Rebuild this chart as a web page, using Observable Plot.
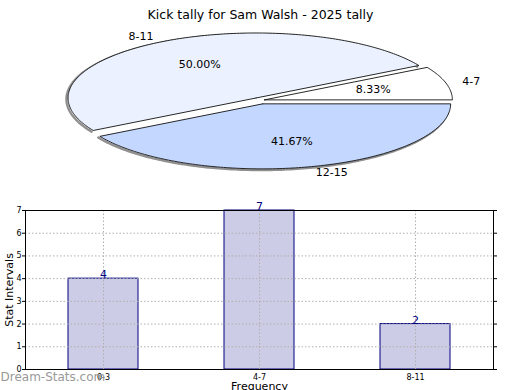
<!DOCTYPE html>
<html><head><meta charset="utf-8">
<script src="https://cdn.jsdelivr.net/npm/d3@7"></script>
<script src="https://cdn.jsdelivr.net/npm/@observablehq/plot@0.6"></script>
<style>
body{margin:0;background:#fff;}
#c{position:relative;width:520px;height:390px;overflow:hidden;font-family:"DejaVu Sans",sans-serif;}
#c svg{position:absolute;left:0;}
</style>
</head><body><div id="c"></div>
<script>
const title = "Kick tally for Sam Walsh - 2025 tally";
const pieLabels = ["4-7", "8-11", "12-15"];
const pieValues = [1, 6, 5];
const pieColors = ["#ffffff", "#ebf1ff", "#c4d8ff"];
const barCategories = ["0-3", "4-7", "8-11"];
const barValues = [4, 7, 2];
const yTicks = [0, 1, 2, 3, 4, 5, 6, 7];
const xLabel = "Frequency";
const yLabel = "Stat Intervals";
const watermark = "Dream-Stats.com";

// ---- pie geometry (computed from the values) ----
const CX = 259.4, CY = 99.8, RX = 188, RY = 65, EXPLODE = 4.5;
const total = d3.sum(pieValues);
let acc = 0;
const slices = pieLabels.map((label, i) => {
  const a0 = acc / total * 360; acc += pieValues[i]; const a1 = acc / total * 360;
  const mid = (a0 + a1) / 2, m = mid * Math.PI / 180;
  const nx = RX * Math.cos(m), ny = RY * Math.sin(m), n = Math.hypot(nx, ny);
  return {label, value: pieValues[i], pct: pieValues[i] / total * 100, a0, a1, mid, color: pieColors[i],
    cx: CX + EXPLODE * nx / n, cy: CY - EXPLODE * ny / n};
});
function ell(s, deg, r) { const t = deg * Math.PI / 180; return [s.cx + r * RX * Math.cos(t), s.cy - r * RY * Math.sin(t)]; }
function polygon(s) {
  const pts = [{x: s.cx, y: s.cy}];
  for (let a = s.a0; a <= s.a1 + 1e-9; a += 1) { const [x, y] = ell(s, a, 1); pts.push({x, y}); }
  pts.push({x: s.cx, y: s.cy});
  return pts;
}
function arc(s) {
  const pts = [];
  for (let a = s.a0; a <= s.a1 + 1e-9; a += 1) { const [x, y] = ell(s, a, 1); pts.push({x, y}); }
  return pts;
}
const isRight = s => Math.cos(s.mid * Math.PI / 180) > 0;

const pie = Plot.plot({
  width: 520, height: 200, margin: 0,
  x: {type: "linear", domain: [0, 520], range: [0, 520], axis: null},
  y: {type: "linear", domain: [0, 200], range: [0, 200], axis: null},
  style: {fontFamily: "DejaVu Sans", color: "#000", background: "transparent"},
  marks: [
    ...slices.filter(s => s.label !== "4-7").map(s => Plot.line(arc(s), {x: d => d.x - 1.6, y: d => d.y + 1.2, stroke: "#909090", strokeWidth: 2.4})),
    ...slices.map(s => Plot.line(polygon(s), {x: "x", y: "y", fill: s.color, stroke: "#111", strokeWidth: 0.9})),
    Plot.text(slices, {x: s => ell(s, s.mid, 0.6)[0], y: s => ell(s, s.mid, 0.6)[1], text: s => s.pct.toFixed(2) + "%", fontSize: 11, fill: "#000"}),
    Plot.text(slices.filter(isRight), {x: s => ell(s, s.mid, 1.09)[0], y: s => ell(s, s.mid, 1.09)[1], text: "label", textAnchor: "start", fontSize: 11, fill: "#000"}),
    Plot.text(slices.filter(s => !isRight(s)), {x: s => ell(s, s.mid, 1.09)[0], y: s => ell(s, s.mid, 1.09)[1], text: "label", textAnchor: "end", fontSize: 11, fill: "#000"}),
    Plot.text([title], {frameAnchor: "top", dy: 10, fontSize: 12.5, fill: "#000"})
  ]
});
pie.style.top = "0px";

const bars = barCategories.map((c, i) => ({cat: c, value: barValues[i]}));
const grid = {stroke: "#b0b0b0", strokeOpacity: 1, strokeDasharray: "1.5,2"};
const chart = Plot.plot({
  width: 520, height: 190,
  marginLeft: 25, marginRight: 27, marginTop: 10, marginBottom: 21,
  x: {domain: barCategories, paddingInner: 0.55, paddingOuter: 0.275, label: null},
  y: {domain: [0, 7], ticks: yTicks, label: null},
  style: {fontFamily: "DejaVu Sans", fontSize: "8px", color: "#000", background: "transparent", overflow: "visible"},
  marks: [
    Plot.barY(bars, {x: "cat", y: "value", fill: "#ccccE6", stroke: "#000080", strokeWidth: 1}),
    Plot.gridY(yTicks.slice(1, -1), grid),
    Plot.gridX(barCategories, grid),
    Plot.text(bars, {x: "cat", y: "value", text: d => String(d.value), dy: -4, fill: "#000080", fontSize: 11}),
    Plot.frame({stroke: "#000", strokeWidth: 1}),
    Plot.axisY(yTicks, {anchor: "left", tickSize: 3, tickPadding: 1, fontSize: 8, label: null}),
    Plot.axisY(yTicks, {anchor: "right", tickSize: 3, tickFormat: () => "", label: null}),
    Plot.axisX({tickSize: 0, tickPadding: 5, fontSize: 8, label: null}),
    Plot.text([yLabel], {frameAnchor: "left", rotate: -90, dx: -16, textAnchor: "middle", fontSize: 11, fill: "#000"}),
    Plot.text([xLabel], {frameAnchor: "bottom", dy: 20, fontSize: 11, fill: "#000"}),
    Plot.text([watermark], {frameAnchor: "bottom-left", dx: -25, dy: 11, textAnchor: "start", fontSize: 12, fill: "#999"})
  ]
});
chart.style.top = "200px";

const c = document.getElementById("c");
c.appendChild(pie);
c.appendChild(chart);
</script>
</body></html>
